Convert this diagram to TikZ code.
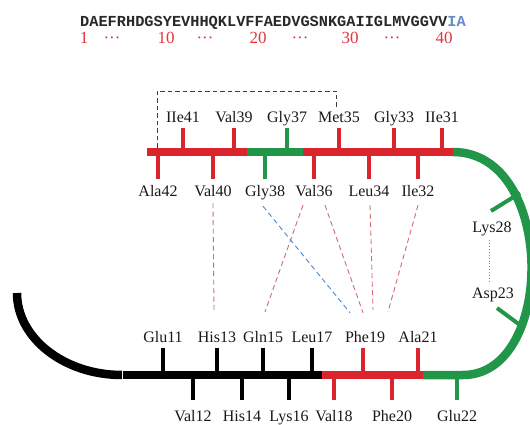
\documentclass[tikz,border=0pt]{standalone}
\usepackage{fontspec}
\setmainfont{Liberation Serif}
\newfontfamily\seqfont{Liberation Mono}
\definecolor{bRed}{RGB}{218,37,45}
\definecolor{bGreen}{RGB}{34,150,72}
\definecolor{nRed}{RGB}{228,52,62}
\definecolor{seqBlue}{RGB}{100,140,195}
\definecolor{seqGray}{RGB}{40,40,40}
\definecolor{pinkD}{RGB}{212,105,115}
\definecolor{blueD}{RGB}{75,135,200}
\definecolor{violD}{RGB}{125,125,205}
\definecolor{boxD}{RGB}{60,60,60}
\begin{document}
\begin{tikzpicture}[x=1pt,y=-1pt,
  bar/.style={line width=8.5pt},
  stub/.style={line width=4pt},
  lab/.style={font=\fontsize{16}{19}\selectfont, inner sep=0pt, anchor=base, text height=11pt, text depth=4pt, text=black!90},
  num/.style={font=\fontsize{17}{19}\selectfont, inner sep=0pt, anchor=base, text=nRed},
  pinkdash/.style={pinkD, line width=0.9pt, dash pattern=on 5pt off 3.5pt},
  bluedash/.style={blueD, line width=0.9pt, dash pattern=on 5pt off 3.5pt},
  violdot/.style={violD, line width=0.9pt, dotted},
  boxdash/.style={boxD, line width=0.9pt, dash pattern=on 4.5pt off 3pt}]
\useasboundingbox (0,0) rectangle (530,425);
\clip (0,0) rectangle (530,425);

% sequence
\node[inner sep=0pt, anchor=base west, font=\seqfont\bfseries\fontsize{15.3}{18}\selectfont] (seq) at (80,27)
  {\textcolor{seqGray}{DAEFRHDGSYEVHHQKLVFFAEDVGSNKGAIIGLMVGGVV}\textcolor{seqBlue}{IA}};
\node[num] (n1) at (84,44) {1};
\node[num] (d1) at (112,44) {···};
\node[num] (n10) at (166,44) {10};
\node[num] (d2) at (205,44) {···};
\node[num] (n20) at (258,44) {20};
\node[num] (d3) at (300,44) {···};
\node[num] (n30) at (350,44) {30};
\node[num] (d4) at (392,44) {···};
\node[num] (n40) at (444,44) {40};

% dashed bracket
\draw[boxdash] (157,148) -- (157,91) -- (336,91) -- (336,107);

% upper strand
\draw[bar,bRed] (147,152) -- (247,152);
\draw[bar,bGreen] (247,152) -- (303,152);
\draw[bar,bRed] (303,152) -- (454,152);
\foreach \x/\c in {183/bRed,234/bRed,287/bGreen,339/bRed,394/bRed,442/bRed}
  \draw[stub,\c] (\x,128) -- (\x,150);
\foreach \x/\c in {158/bRed,213/bRed,265/bGreen,314/bRed,369/bRed,418/bRed}
  \draw[stub,\c] (\x,154) -- (\x,179);

% turn
\draw[bar,bGreen] (453,152) .. controls (556,152) and (556,375) .. (463,375) -- (423,375);
\draw[stub,bGreen] (520,193) -- (491,211);
\draw[stub,bGreen] (524,328) -- (497,308);

% lower strand
\draw[bar,bRed] (423,375) -- (322,375);
\draw[bar,black] (322,375) -- (122,375);
\draw[bar,black] (122,375) .. controls (64,375) and (17,338) .. (17,293);
\draw[white,line width=0.8pt] (122,371) -- (122,379);
\foreach \x/\c in {163/black,217/black,263/black,312/black,363/bRed,418/bRed}
  \draw[stub,\c] (\x,348) -- (\x,373);
\foreach \x/\c in {193/black,242/black,289/black,334/bRed,392/bRed,457/bGreen}
  \draw[stub,\c] (\x,377) -- (\x,400);

% labels upper
\node[lab] (Ile41) at (183,123) {IIe41};
\node[lab] (Val39) at (234,123) {Val39};
\node[lab] (Gly37) at (287,123) {Gly37};
\node[lab] (Met35) at (339,123) {Met35};
\node[lab] (Gly33) at (394,123) {Gly33};
\node[lab] (Ile31) at (442,123) {IIe31};
\node[lab] (Ala42) at (158,196) {Ala42};
\node[lab] (Val40) at (213,196) {Val40};
\node[lab] (Gly38) at (265,196) {Gly38};
\node[lab] (Val36) at (314,196) {Val36};
\node[lab] (Leu34) at (369,196) {Leu34};
\node[lab] (Ile32) at (418,196) {Ile32};
% turn labels
\node[lab] (Lys28) at (492,232) {Lys28};
\node[lab] (Asp23) at (493,298) {Asp23};
% labels lower
\node[lab] (Glu11) at (163,342) {Glu11};
\node[lab] (His13) at (217,342) {His13};
\node[lab] (Gln15) at (263,342) {Gln15};
\node[lab] (Leu17) at (312,342) {Leu17};
\node[lab] (Phe19) at (365,342) {Phe19};
\node[lab] (Ala21) at (418,342) {Ala21};
\node[lab] (Val12) at (193,421) {Val12};
\node[lab] (His14) at (242,421) {His14};
\node[lab] (Lys16) at (289,421) {Lys16};
\node[lab] (Val18) at (334,421) {Val18};
\node[lab] (Phe20) at (392,421) {Phe20};
\node[lab] (Glu22) at (457,421) {Glu22};

% contacts
\draw[pinkdash] ([shift={(0,3)}]Val40.south) -- ([shift={(-3,-19)}]His13.north);
\draw[pinkdash] ([shift={(-11,5)}]Val36.south) -- ([shift={(2,-19)}]Gln15.north);
\draw[bluedash] ([shift={(-2,6)}]Gly38.south) -- ([shift={(-15,-18)}]Phe19.north);
\draw[pinkdash] ([shift={(11,5)}]Val36.south) -- ([shift={(-2,-18)}]Phe19.north);
\draw[pinkdash] ([shift={(1,5)}]Leu34.south) -- ([shift={(8,-21)}]Phe19.north);
\draw[pinkdash] ([shift={(0,5)}]Ile32.south) -- ([shift={(23,-19)}]Phe19.north);
\draw[violdot] ([shift={(-3,4)}]Lys28.south) -- ([shift={(-4,-4)}]Asp23.north);
\end{tikzpicture}
\end{document}
